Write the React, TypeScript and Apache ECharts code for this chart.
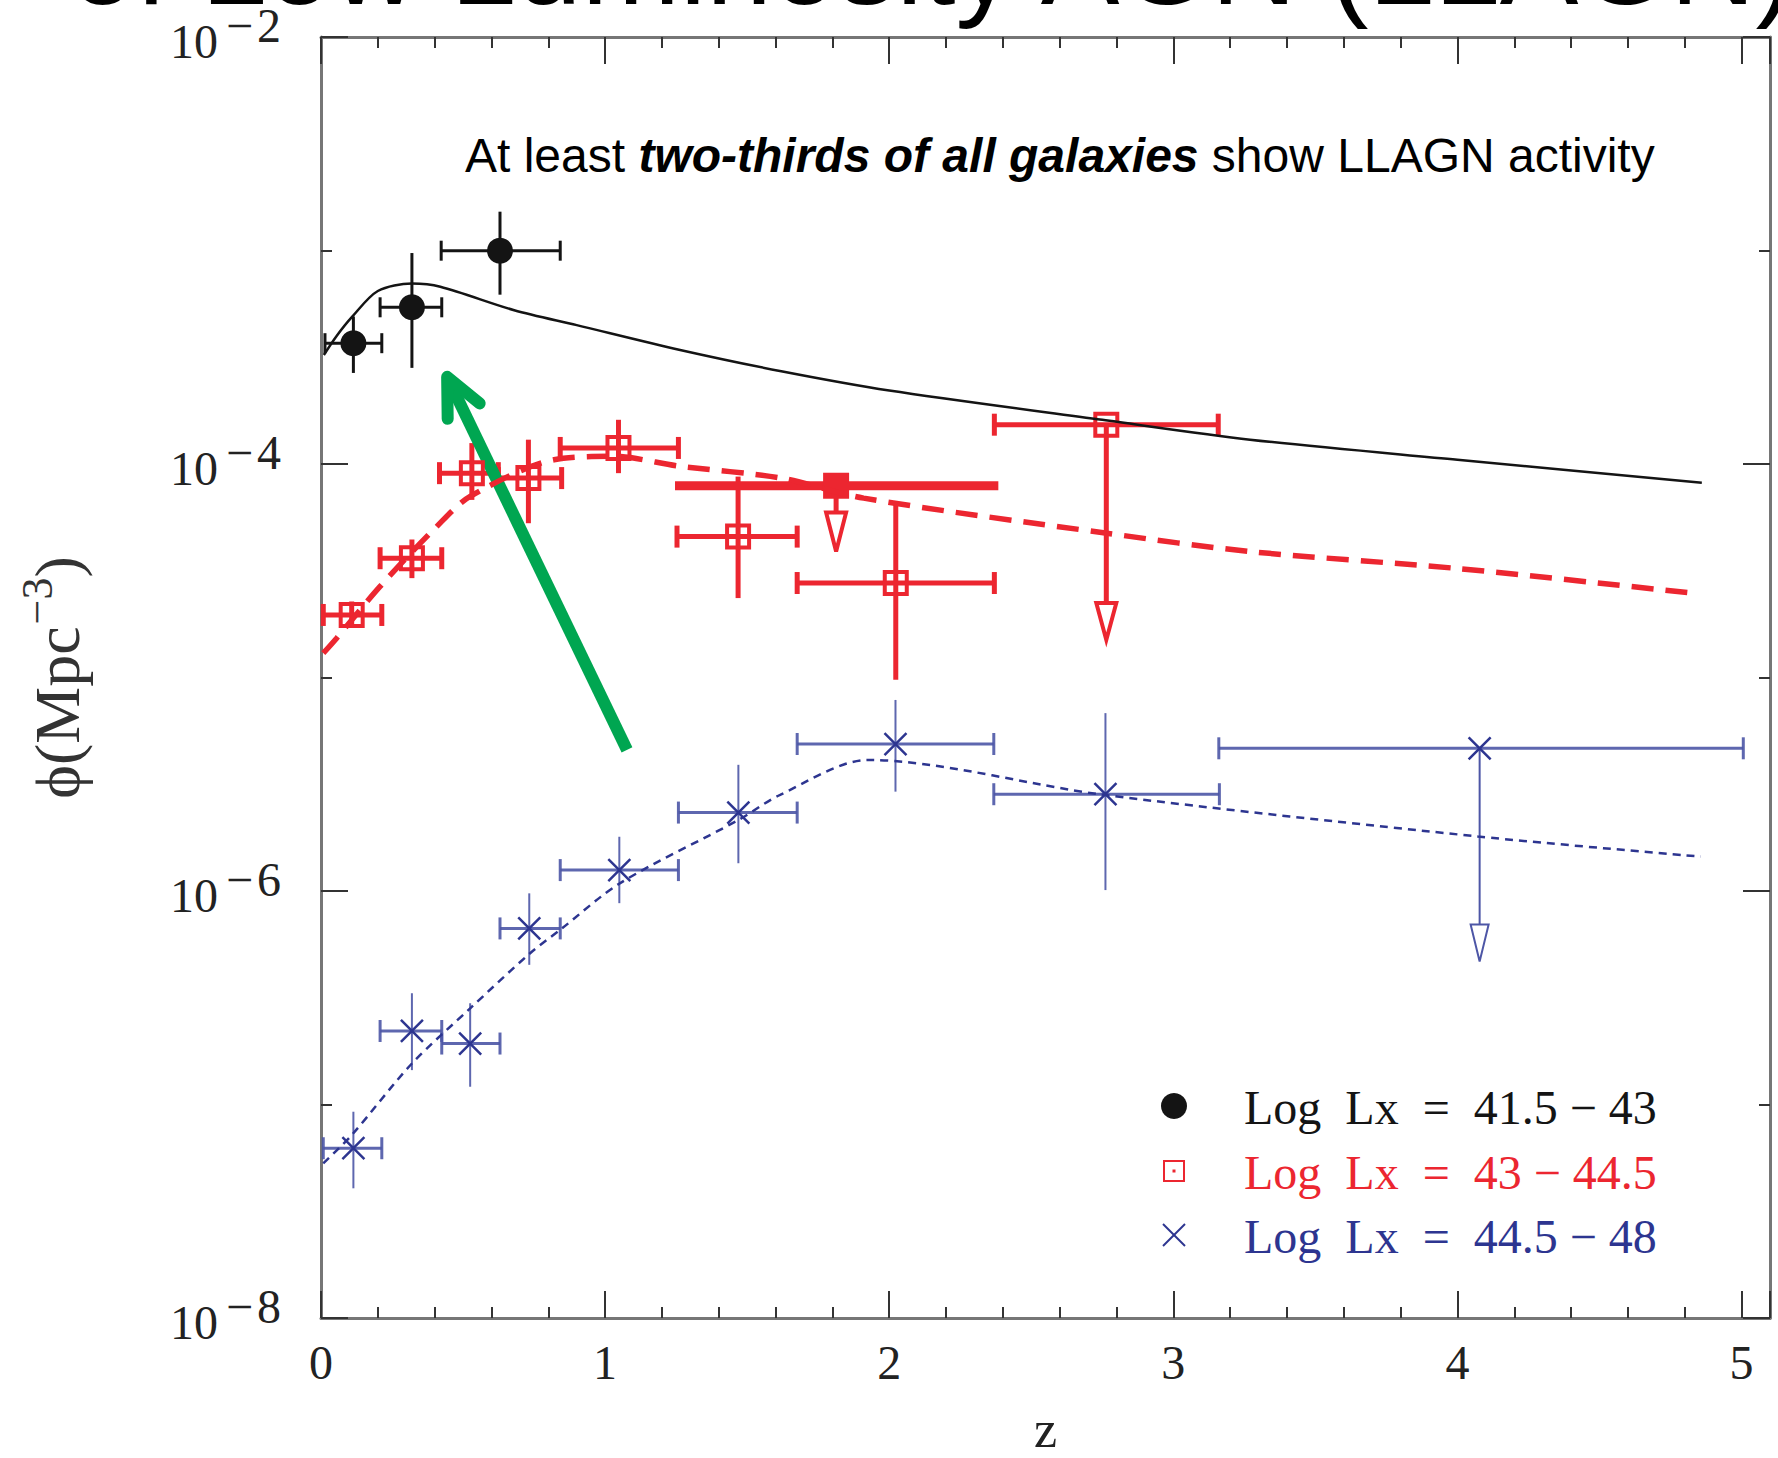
import React, { useEffect, useRef } from "react";
import * as echarts from "echarts";

const W = 1778;
const H = 1458;

const SERIF = "'Liberation Serif', 'DejaVu Serif', serif";
const SANS = "'Liberation Sans', Arial, sans-serif";

const BLACK = "#141414";
const RED = "#ec2630";
const BLUE = "#2d3590";
const BLUE_ERR = "#4d56a6";
const GREEN = "#00a651";
const FRAME = "#767676";
const TICK = "#333333";

// ---------- axes ----------
const X_MIN = 0;
const X_MAX = 5.1;
const Y_MIN_EXP = -8;
const Y_MAX_EXP = -2;
const X_MAJOR_LABELS = ["0", "1", "2", "3", "4", "5"];
const Y_LABEL_EXPONENTS = [-8, -6, -4, -2];

// ---------- texts ----------
const TITLE = "of Low Luminosity AGN (LLAGN)";
const X_NAME = "z";
const NOTE_A = "At least ";
const NOTE_B = "two-thirds of all galaxies";
const NOTE_C = " show LLAGN activity";
const LEGEND_LABELS = ["Log  Lx  =  41.5 − 43", "Log  Lx  =  43 − 44.5", "Log  Lx  =  44.5 − 48"];

// ---------- Log Lx = 41.5-43 (black, filled circles) ----------
const blackZ = [0.114, 0.32, 0.63];
const blackZLo = [0.014, 0.208, 0.423];
const blackZHi = [0.214, 0.425, 0.842];
const blackPhi = [3.68e-4, 5.42e-4, 9.98e-4];
const blackPhiLo = [2.67e-4, 2.82e-4, 6.21e-4];
const blackPhiHi = [4.91e-4, 9.73e-4, 1.52e-3];

// ---------- Log Lx = 43-44.5 (red, open squares) ----------
const redZ = [0.108, 0.32, 0.531, 0.73, 1.047, 1.468, 2.023];
const redZLo = [0.008, 0.208, 0.417, 0.624, 0.842, 1.253, 1.676];
const redZHi = [0.214, 0.425, 0.624, 0.847, 1.258, 1.676, 2.37];
const redPhi = [1.963e-5, 3.62e-5, 9.06e-5, 8.59e-5, 1.189e-4, 4.57e-5, 2.77e-5];
const redPhiLo = [1.706e-5, 2.92e-5, 6.79e-5, 5.28e-5, 9.06e-5, 2.355e-5, 9.75e-6];
const redPhiHi = [2.27e-5, 4.43e-5, 1.253e-4, 1.3e-4, 1.611e-4, 8.73e-5, 6.68e-5];
// upper limit, open square
const redLimZ = [2.764];
const redLimZLo = [2.37];
const redLimZHi = [3.158];
const redLimPhi = [1.528e-4];
const redLimTip = [1.5e-5];
// upper limit, filled square with thick bin bar
const redFillZ = [1.813];
const redFillZLo = [1.246];
const redFillZHi = [2.384];
const redFillPhi = [7.91e-5];
const redFillTip = [3.89e-5];

// ---------- Log Lx = 44.5-48 (blue, crosses) ----------
const blueZ = [0.114, 0.32, 0.525, 0.733, 1.05, 1.469, 2.022, 2.761];
const blueZLo = [0.008, 0.208, 0.425, 0.63, 0.842, 1.258, 1.676, 2.368];
const blueZHi = [0.214, 0.425, 0.63, 0.842, 1.258, 1.676, 2.368, 3.162];
const bluePhi = [6.24e-8, 2.21e-7, 1.93e-7, 6.68e-7, 1.253e-6, 2.33e-6, 4.88e-6, 2.84e-6];
const bluePhiLo = [4.05e-8, 1.449e-7, 1.211e-7, 4.51e-7, 8.77e-7, 1.349e-6, 2.92e-6, 1.01e-6];
const bluePhiHi = [9.25e-8, 3.32e-7, 2.98e-7, 9.75e-7, 1.795e-6, 3.9e-6, 7.85e-6, 6.81e-6];
const blueLimZ = [4.078];
const blueLimZLo = [3.16];
const blueLimZHi = [5.006];
const blueLimPhi = [4.66e-6];
const blueLimTip = [4.67e-7];

// ---------- model curves ----------
const blackCurveZ = [0.01, 0.055, 0.11, 0.2, 0.32, 0.42, 0.68, 0.9, 1.26, 1.62, 2.0, 2.75, 3.27, 4.0, 4.86];
const blackCurvePhi = [3.24e-4, 3.98e-4, 4.9e-4, 6.46e-4, 7.0e-4, 6.76e-4, 5.25e-4, 4.47e-4, 3.43e-4, 2.72e-4, 2.21e-4, 1.61e-4, 1.3e-4, 1.047e-4, 8.17e-5];
const redCurveZ = [0.008, 0.055, 0.208, 0.407, 0.525, 0.82, 1.03, 1.26, 1.62, 1.91, 2.76, 3.27, 4.0, 4.82];
const redCurvePhi = [1.3e-5, 1.528e-5, 2.67e-5, 5.09e-5, 7.05e-5, 1.047e-4, 1.086e-4, 9.77e-5, 8.59e-5, 6.92e-5, 4.75e-5, 3.89e-5, 3.24e-5, 2.49e-5];
const blueCurveZ = [0.008, 0.108, 0.32, 0.525, 0.736, 0.842, 1.053, 1.469, 1.616, 1.925, 2.756, 4.072, 4.856];
const blueCurvePhi = [5.3e-8, 7.19e-8, 1.556e-7, 2.82e-7, 5.11e-7, 6.58e-7, 1.089e-6, 2.15e-6, 2.82e-6, 4.11e-6, 2.82e-6, 1.8e-6, 1.449e-6];

// ---------- annotation arrow (z, phi) ----------
const arrowTail = [1.077, 4.58e-6];
const arrowTip = [0.444, 2.56e-4];

const L = (v: number) => Math.log10(v);

const errRows = (z: number[], zl: number[], zh: number[], p: number[], pl: number[], ph: number[]) =>
  z.map((v, i) => [v, L(p[i]), zl[i], zh[i], L(pl[i]), L(ph[i])]);
const limRows = (z: number[], zl: number[], zh: number[], p: number[], tip: number[]) =>
  z.map((v, i) => [v, L(p[i]), zl[i], zh[i], L(tip[i])]);
const pts = (z: number[], p: number[]) => z.map((v, i) => [v, L(p[i])]);

function errorBarSeries(name: string, data: number[][], color: string, hLw: number, vLw: number, cap: number, opacity = 1) {
  return {
    type: "custom",
    name,
    silent: true,
    data,
    encode: { x: [0, 2, 3], y: [1, 4, 5] },
    renderItem: (_p: any, api: any) => {
      const x = api.value(0);
      const y = api.value(1);
      const l = api.coord([api.value(2), y]);
      const r = api.coord([api.value(3), y]);
      const b = api.coord([x, api.value(4)]);
      const t = api.coord([x, api.value(5)]);
      const h = cap / 2;
      const hs = { stroke: color, lineWidth: hLw, opacity };
      const vs = { stroke: color, lineWidth: vLw, opacity };
      return {
        type: "group",
        children: [
          { type: "line", shape: { x1: l[0], y1: l[1], x2: r[0], y2: r[1] }, style: hs },
          { type: "line", shape: { x1: l[0], y1: l[1] - h, x2: l[0], y2: l[1] + h }, style: hs },
          { type: "line", shape: { x1: r[0], y1: r[1] - h, x2: r[0], y2: r[1] + h }, style: hs },
          { type: "line", shape: { x1: t[0], y1: t[1], x2: b[0], y2: b[1] }, style: vs },
        ],
      };
    },
  };
}

function upperLimitSeries(
  name: string,
  data: number[][],
  color: string,
  o: { hLw: number; vLw: number; cap: number; headLen: number; headW: number; headLw: number; opacity?: number }
) {
  return {
    type: "custom",
    name,
    silent: true,
    data,
    encode: { x: [0, 2, 3], y: [1, 4] },
    renderItem: (_p: any, api: any) => {
      const x = api.value(0);
      const y = api.value(1);
      const c = api.coord([x, y]);
      const l = api.coord([api.value(2), y]);
      const r = api.coord([api.value(3), y]);
      const tip = api.coord([x, api.value(4)]);
      const top = tip[1] - o.headLen;
      const op = o.opacity ?? 1;
      const hs = { stroke: color, lineWidth: o.hLw, opacity: op };
      const children: any[] = [
        { type: "line", shape: { x1: l[0], y1: l[1], x2: r[0], y2: r[1] }, style: hs },
        { type: "line", shape: { x1: c[0], y1: c[1], x2: c[0], y2: top }, style: { stroke: color, lineWidth: o.vLw } },
        {
          type: "polygon",
          shape: { points: [[tip[0] - o.headW / 2, top], [tip[0] + o.headW / 2, top], [tip[0], tip[1]]] },
          style: { fill: "#ffffff", stroke: color, lineWidth: o.headLw, lineJoin: "miter" },
        },
      ];
      if (o.cap > 0) {
        const h = o.cap / 2;
        children.push({ type: "line", shape: { x1: l[0], y1: l[1] - h, x2: l[0], y2: l[1] + h }, style: hs });
        children.push({ type: "line", shape: { x1: r[0], y1: r[1] - h, x2: r[0], y2: r[1] + h }, style: hs });
      }
      return { type: "group", children };
    },
  };
}

function buildOption() {
  const tickLabelStyle = { fontFamily: SERIF, fontSize: 48, color: "#222" };
  const majorX = (pos: "bottom" | "top", labels: boolean) => ({
    type: "value",
    position: pos,
    min: X_MIN,
    max: X_MAX,
    interval: 1,
    axisLine: { show: true, onZero: false, lineStyle: { color: FRAME, width: 3 } },
    axisTick: { show: true, inside: true, length: 27, lineStyle: { color: TICK, width: 2 } },
    axisLabel: labels
      ? {
          show: true,
          margin: 20,
          ...tickLabelStyle,
          formatter: (v: number) => {
            const s = String(Math.round(v * 10) / 10);
            return X_MAJOR_LABELS.includes(s) ? s : "";
          },
        }
      : { show: false },
    splitLine: { show: false },
    ...(labels
      ? {
          name: X_NAME,
          nameLocation: "middle",
          nameGap: 91,
          nameTextStyle: { fontFamily: SERIF, fontSize: 52, lineHeight: 40, color: "#222" },
        }
      : {}),
  });
  const minorX = (pos: "bottom" | "top") => ({
    type: "value",
    position: pos,
    min: X_MIN,
    max: X_MAX,
    interval: 0.2,
    axisLine: { show: false, onZero: false },
    axisTick: { show: true, inside: true, length: 11, lineStyle: { color: TICK, width: 2 } },
    axisLabel: { show: false },
    splitLine: { show: false },
  });
  const yAx = (pos: "left" | "right", labels: boolean) => ({
    type: "value",
    position: pos,
    min: Y_MIN_EXP,
    max: Y_MAX_EXP,
    interval: 2,
    axisLine: { show: true, onZero: false, lineStyle: { color: FRAME, width: 3 } },
    axisTick: { show: true, inside: true, length: 27, lineStyle: { color: TICK, width: 2 } },
    minorTick: { show: true, splitNumber: 2, length: 11, lineStyle: { color: TICK, width: 2 } },
    splitLine: { show: false },
    minorSplitLine: { show: false },
    axisLabel: labels
      ? {
          show: true,
          margin: 40,
          padding: [0, 0, 24, 0],
          formatter: (v: number) =>
            Y_LABEL_EXPONENTS.includes(Math.round(v)) ? `{b|10}{m|−}{s|${-Math.round(v)}}` : "",
          rich: {
            b: { ...tickLabelStyle, padding: [32, 0, 0, 0] },
            m: { ...tickLabelStyle, padding: [0, 0, 0, 8] },
            s: { ...tickLabelStyle, padding: [0, 0, 0, 4] },
          },
        }
      : { show: false },
    ...(labels
      ? {
          name: "{a|ϕ(Mpc}{s|−3}{a|)}",
          nameLocation: "middle",
          nameRotate: 90,
          nameGap: 222,
          nameTextStyle: {
            rich: {
              a: { fontFamily: SERIF, fontSize: 64, color: "#333" },
              s: { fontFamily: SERIF, fontSize: 44, color: "#333", padding: [0, 0, 40, 2] },
            },
          },
        }
      : {}),
  });

  const series: any[] = [
    {
      type: "line",
      name: "model 41.5-43",
      data: pts(blackCurveZ, blackCurvePhi),
      showSymbol: false,
      symbol: "none",
      smooth: 0.3,
      silent: true,
      lineStyle: { color: BLACK, width: 2.5 },
    },
    {
      type: "line",
      name: "model 43-44.5",
      data: pts(redCurveZ, redCurvePhi),
      showSymbol: false,
      symbol: "none",
      smooth: 0.3,
      silent: true,
      lineStyle: { color: RED, width: 5.5, type: [22, 12] },
    },
    {
      type: "line",
      name: "model 44.5-48",
      data: pts(blueCurveZ, blueCurvePhi),
      showSymbol: false,
      symbol: "none",
      smooth: 0.3,
      silent: true,
      lineStyle: { color: BLUE, width: 2.5, type: [8, 6] },
    },
    errorBarSeries("err blue", errRows(blueZ, blueZLo, blueZHi, bluePhi, bluePhiLo, bluePhiHi), BLUE_ERR, 3, 2, 22, 0.9),
    upperLimitSeries("lim blue", limRows(blueLimZ, blueLimZLo, blueLimZHi, blueLimPhi, blueLimTip), BLUE_ERR, {
      hLw: 3, vLw: 2, cap: 22, headLen: 37, headW: 18, headLw: 2, opacity: 0.9,
    }),
    errorBarSeries("err red", errRows(redZ, redZLo, redZHi, redPhi, redPhiLo, redPhiHi), RED, 5, 5, 22),
    upperLimitSeries("lim red", limRows(redLimZ, redLimZLo, redLimZHi, redLimPhi, redLimTip), RED, {
      hLw: 5, vLw: 5, cap: 22, headLen: 37, headW: 20, headLw: 4,
    }),
    upperLimitSeries("lim red filled", limRows(redFillZ, redFillZLo, redFillZHi, redFillPhi, redFillTip), RED, {
      hLw: 9, vLw: 5, cap: 0, headLen: 39, headW: 20, headLw: 4,
    }),
    errorBarSeries("err black", errRows(blackZ, blackZLo, blackZHi, blackPhi, blackPhiLo, blackPhiHi), BLACK, 3, 3, 20),
    {
      type: "scatter",
      name: LEGEND_LABELS[0],
      data: pts(blackZ, blackPhi),
      symbol: "circle",
      symbolSize: 26,
      silent: true,
      itemStyle: { color: BLACK, opacity: 1 },
    },
    {
      type: "scatter",
      name: LEGEND_LABELS[1],
      data: pts(redZ.concat(redLimZ), redPhi.concat(redLimPhi)),
      symbol: "rect",
      symbolSize: 22,
      silent: true,
      itemStyle: { color: "rgba(255,255,255,0)", borderColor: RED, borderWidth: 4, opacity: 1 },
    },
    {
      type: "scatter",
      name: "filled",
      data: pts(redFillZ, redFillPhi),
      symbol: "rect",
      symbolSize: 26,
      silent: true,
      itemStyle: { color: RED, opacity: 1 },
    },
    {
      type: "scatter",
      name: LEGEND_LABELS[2],
      data: pts(blueZ.concat(blueLimZ), bluePhi.concat(blueLimPhi)),
      symbol: "path://M0,0L20,20M20,0L0,20",
      symbolSize: 22,
      silent: true,
      itemStyle: { color: "rgba(255,255,255,0)", borderColor: BLUE, borderWidth: 2.5, opacity: 1 },
    },
    {
      type: "custom",
      name: "arrow",
      silent: true,
      data: [[arrowTail[0], L(arrowTail[1]), arrowTip[0], L(arrowTip[1])]],
      encode: { x: [0, 2], y: [1, 3] },
      renderItem: (_p: any, api: any) => {
        const a = api.coord([api.value(0), api.value(1)]);
        const b = api.coord([api.value(2), api.value(3)]);
        const dx = a[0] - b[0];
        const dy = a[1] - b[1];
        const len = Math.hypot(dx, dy);
        const ux = dx / len;
        const uy = dy / len;
        const arm = 42;
        const ang = (25 * Math.PI) / 180;
        const rot = (s: number) => [
          b[0] + arm * (ux * Math.cos(s * ang) - uy * Math.sin(s * ang)),
          b[1] + arm * (ux * Math.sin(s * ang) + uy * Math.cos(s * ang)),
        ];
        return {
          type: "group",
          children: [
            { type: "line", shape: { x1: a[0], y1: a[1], x2: b[0] + ux * 4, y2: b[1] + uy * 4 }, style: { stroke: GREEN, lineWidth: 12, lineCap: "butt" } },
            { type: "polyline", shape: { points: [rot(1), b, rot(-1)] }, style: { stroke: GREEN, lineWidth: 12, lineCap: "round", lineJoin: "round", fill: "none" } },
          ],
        };
      },
    },
  ];

  const legendColors = [BLACK, RED, BLUE];
  const legendY = [1106, 1171, 1235];
  const mx = 1174;
  const graphic: any[] = [
    {
      type: "text",
      x: 70,
      y: -37,
      silent: true,
      style: { text: TITLE, fontFamily: SANS, fontSize: 118, lineHeight: 70, fill: "#000", align: "left", verticalAlign: "middle" },
    },
    {
      type: "text",
      x: 465,
      y: 155,
      silent: true,
      style: {
        text: `{n|${NOTE_A}}{b|${NOTE_B}}{n|${NOTE_C}}`,
        align: "left",
        verticalAlign: "middle",
        rich: {
          n: { fontFamily: SANS, fontSize: 48, fill: "#000" },
          b: { fontFamily: SANS, fontSize: 48, fill: "#000", fontWeight: "bold", fontStyle: "italic" },
        },
      },
    },
    { type: "circle", silent: true, shape: { cx: mx, cy: legendY[0], r: 13 }, style: { fill: BLACK } },
    { type: "rect", silent: true, shape: { x: mx - 10, y: legendY[1] - 10, width: 20, height: 20 }, style: { fill: "none", stroke: RED, lineWidth: 2 } },
    { type: "rect", silent: true, shape: { x: mx - 1.5, y: legendY[1] - 1.5, width: 3, height: 3 }, style: { fill: RED } },
    { type: "line", silent: true, shape: { x1: mx - 11, y1: legendY[2] - 11, x2: mx + 11, y2: legendY[2] + 11 }, style: { stroke: BLUE, lineWidth: 2 } },
    { type: "line", silent: true, shape: { x1: mx + 11, y1: legendY[2] - 11, x2: mx - 11, y2: legendY[2] + 11 }, style: { stroke: BLUE, lineWidth: 2 } },
    ...LEGEND_LABELS.map((t, i) => ({
      type: "text",
      x: 1244,
      y: legendY[i] + 1,
      silent: true,
      style: { text: t, fontFamily: SERIF, fontSize: 48, fill: legendColors[i], align: "left", verticalAlign: "middle" },
    })),
  ];

  return {
    animation: false,
    backgroundColor: "#ffffff",
    textStyle: { fontFamily: SERIF },
    grid: { left: 321, right: 8, top: 37, bottom: 140, containLabel: false, outerBoundsMode: "none" },
    xAxis: [majorX("bottom", true), minorX("bottom"), majorX("top", false), minorX("top")],
    yAxis: [yAx("left", true), yAx("right", false)],
    series,
    graphic,
  };
}

export default function App() {
  const ref = useRef<HTMLDivElement>(null);
  useEffect(() => {
    if (!ref.current) return;
    const chart = echarts.init(ref.current, null, { renderer: "svg", width: W, height: H });
    chart.setOption(buildOption() as any);
    return () => chart.dispose();
  }, []);
  return (
    <div
      ref={ref}
      style={{ position: "absolute", left: 0, top: 0, width: W, height: H, background: "#fff" }}
    />
  );
}
